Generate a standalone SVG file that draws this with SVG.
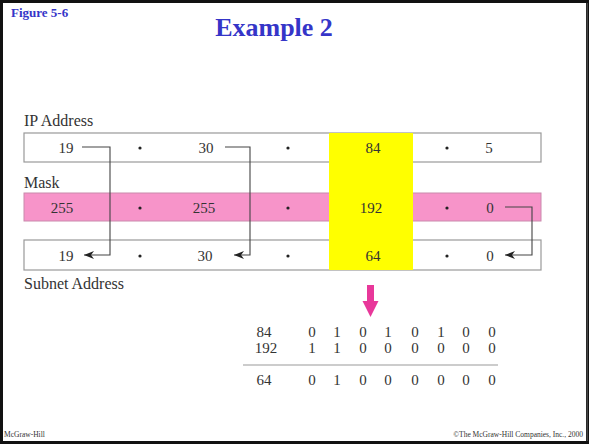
<svg xmlns="http://www.w3.org/2000/svg" width="589" height="444" viewBox="0 0 589 444">
<style>
.t{font-family:"Liberation Serif",serif;font-size:15px;fill:#333;}
.lbl{font-family:"Liberation Serif",serif;font-size:16px;fill:#333;}
.c{text-anchor:middle;}
.row{stroke:#999;stroke-width:1.2;}
.conn{fill:none;stroke:#444;stroke-width:1.1;}
.dot{fill:#222;}
.foot{font-family:"Liberation Serif",serif;font-size:7.5px;fill:#333;}
</style>
<defs>
<marker id="ah" viewBox="0 0 10 8" refX="10" refY="4" markerWidth="10" markerHeight="8" markerUnits="userSpaceOnUse" orient="auto">
<path d="M10,4 L0,0 L3,4 L0,8 Z" fill="#222"/>
</marker>
</defs>
<rect x="0" y="0" width="589" height="444" fill="#fff"/>
<rect x="1.5" y="1.5" width="586" height="441" fill="none" stroke="#111" stroke-width="3"/>
<rect x="586.5" y="3" width="1.5" height="438" fill="#444"/>

<text x="11" y="17" font-family="Liberation Serif,serif" font-size="13" font-weight="bold" fill="#3535c8">Figure  5-6</text>
<text x="274" y="36" font-family="Liberation Serif,serif" font-size="26" font-weight="bold" fill="#3535c8" text-anchor="middle">Example 2</text>

<g id="ip-row">
<text class="lbl" x="24" y="126">IP Address</text>
<rect class="row" x="24" y="133" width="517" height="29" fill="#fff"/>
</g>
<g id="mask-row">
<text class="lbl" x="24" y="188">Mask</text>
<rect x="24" y="193" width="517" height="28" fill="#f794c9" stroke="#c98aac" stroke-width="1"/>
</g>
<g id="subnet-row">
<rect class="row" x="24" y="240" width="517" height="30" fill="#fff"/>
<text class="lbl" x="24" y="289">Subnet Address</text>
</g>
<g id="highlight">
<rect x="329" y="133" width="84" height="137" fill="#ffff00"/>
</g>

<g id="ip-values">
<text class="t c" x="66" y="153">19</text>
<circle class="dot" cx="140" cy="148" r="1.6"/>
<text class="t c" x="206" y="153">30</text>
<circle class="dot" cx="288" cy="148" r="1.6"/>
<text class="t c" x="373" y="153">84</text>
<circle class="dot" cx="447" cy="148" r="1.6"/>
<text class="t c" x="489" y="153">5</text>
</g>
<g id="mask-values">
<text class="t c" x="62" y="213">255</text>
<circle class="dot" cx="140" cy="208" r="1.6"/>
<text class="t c" x="204" y="213">255</text>
<circle class="dot" cx="288" cy="208" r="1.6"/>
<text class="t c" x="371" y="213">192</text>
<circle class="dot" cx="447" cy="208" r="1.6"/>
<text class="t c" x="490" y="213">0</text>
</g>
<g id="subnet-values">
<text class="t c" x="66" y="261">19</text>
<circle class="dot" cx="140" cy="256" r="1.6"/>
<text class="t c" x="205" y="261">30</text>
<circle class="dot" cx="288" cy="256" r="1.6"/>
<text class="t c" x="373" y="261">64</text>
<circle class="dot" cx="447" cy="256" r="1.6"/>
<text class="t c" x="490" y="261">0</text>
</g>

<g id="connectors">
<path class="conn" d="M82,147 H110 V255 H84" marker-end="url(#ah)"/>
<path class="conn" d="M225,147 H250 V255 H234" marker-end="url(#ah)"/>
<path class="conn" d="M505,207 H532 V255 H505" marker-end="url(#ah)"/>
</g>

<g id="down-arrow">
<path d="M367,285 H374 V301 H378.5 L370.5,317 L362.5,301 H367 Z" fill="#e8389a"/>
</g>

<g id="binary-table">
<text class="t c" x="264" y="337">84</text>
<text class="t c" x="266" y="353">192</text>
<text class="t c" x="264" y="385">64</text>
<g class="t c">
<text x="312" y="337">0</text><text x="337" y="337">1</text><text x="363" y="337">0</text><text x="388" y="337">1</text><text x="415" y="337">0</text><text x="441" y="337">1</text><text x="466" y="337">0</text><text x="492" y="337">0</text>
<text x="312" y="353">1</text><text x="337" y="353">1</text><text x="363" y="353">0</text><text x="388" y="353">0</text><text x="415" y="353">0</text><text x="441" y="353">0</text><text x="466" y="353">0</text><text x="492" y="353">0</text>
<text x="312" y="385">0</text><text x="337" y="385">1</text><text x="363" y="385">0</text><text x="388" y="385">0</text><text x="415" y="385">0</text><text x="441" y="385">0</text><text x="466" y="385">0</text><text x="492" y="385">0</text>
</g>
<line x1="243" y1="365" x2="498" y2="365" stroke="#999" stroke-width="1.2"/>
</g>

<text class="foot" x="4" y="437">McGraw-Hill</text>
<text class="foot" x="583" y="437" text-anchor="end">©The McGraw-Hill Companies, Inc., 2000</text>
</svg>
